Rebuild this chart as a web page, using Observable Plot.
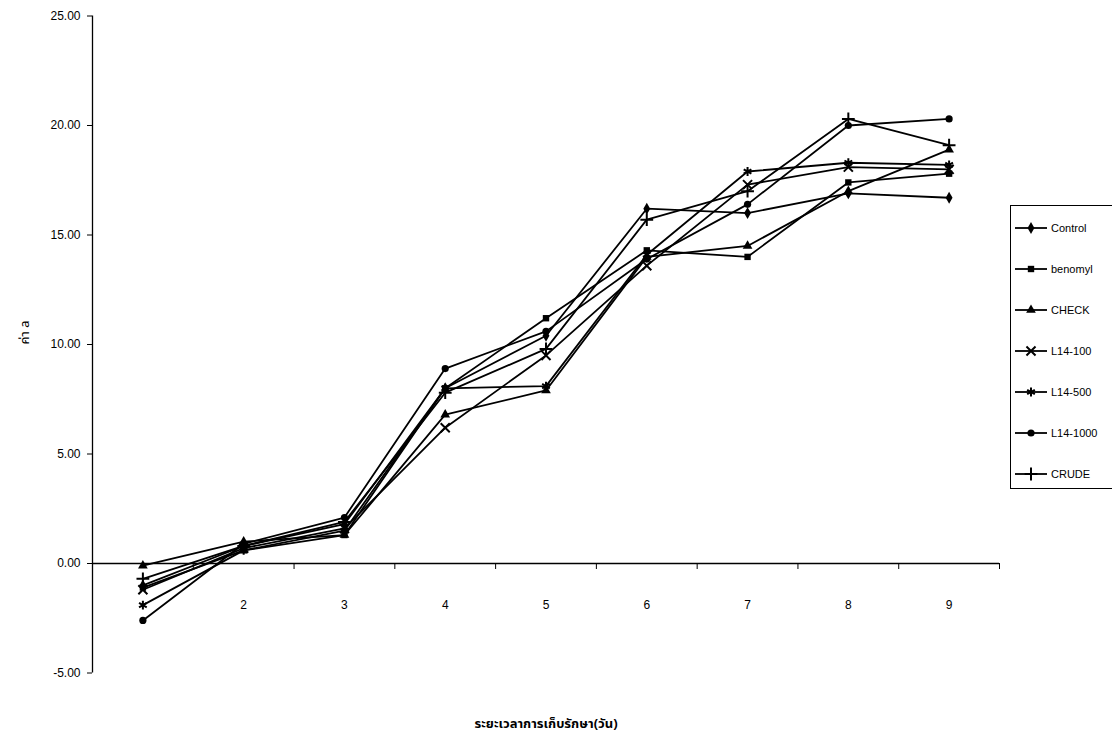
<!DOCTYPE html>
<html><head><meta charset="utf-8">
<script src="https://cdn.jsdelivr.net/npm/d3@7"></script>
<script src="https://cdn.jsdelivr.net/npm/@observablehq/plot@0.6"></script>
<style>
body{margin:0;overflow:hidden;background:#fff}
#wrap{position:relative;width:1112px;height:742px;overflow:hidden}
#legend{position:absolute;left:1010px;top:205px;width:140px;height:284px;border:1.5px solid #000;box-sizing:border-box;background:#fff;font:11px "Liberation Sans",Arial,sans-serif;color:#000}
.item{position:absolute;left:4px;height:14px;display:flex;align-items:center;white-space:nowrap}
.item svg{margin-right:4px}
</style></head>
<body><div id="wrap"></div>
<script>
const days = [1, 2, 3, 4, 5, 6, 7, 8, 9];
const dayLabels = ["", "2", "3", "4", "5", "6", "7", "8", "9"];
const seriesNames = ["Control", "benomyl", "CHECK", "L14-100", "L14-500", "L14-1000", "CRUDE"];
const control  = [-1.0, 0.8, 1.8, 8.0, 10.4, 16.2, 16.0, 16.9, 16.7];
const benomyl  = [-1.1, 0.6, 1.3, 8.0, 11.2, 14.3, 14.0, 17.4, 17.8];
const check    = [-0.1, 1.0, 1.3, 6.8, 7.9, 14.0, 14.5, 17.0, 18.9];
const l14_100  = [-1.2, 0.7, 1.6, 6.2, 9.5, 13.6, 17.3, 18.1, 18.0];
const l14_500  = [-1.9, 0.6, 1.5, 8.0, 8.1, 14.1, 17.9, 18.3, 18.2];
const l14_1000 = [-2.6, 0.9, 2.1, 8.9, 10.6, 13.9, 16.4, 20.0, 20.3];
const crude    = [-0.7, 0.8, 1.9, 7.8, 9.8, 15.7, 17.0, 20.3, 19.1];
const yTicks = [-5, 0, 5, 10, 15, 20, 25];
const xBounds = [0.5, 1.5, 2.5, 3.5, 4.5, 5.5, 6.5, 7.5, 8.5, 9.5];
const xTitle = "ระยะเวลาการเก็บรักษา(วัน)";
const yTitle = "ค่า a";

const seriesValues = [control, benomyl, check, l14_100, l14_500, l14_1000, crude];
const symbolOf = {"Control":"diamond","benomyl":"square","CHECK":"triangle","L14-100":"times","L14-500":"asterisk","L14-1000":"circle","CRUDE":"plus"};
const filledSet = new Set(["diamond","square","triangle","circle"]);
const rows = [];
seriesNames.forEach((s, i) => days.forEach((d, j) => rows.push({series: s, day: d, value: seriesValues[i][j], sym: symbolOf[s]})));

const W = 1112, H = 742, mTop = 15.5, mBottom = 69.5, mLeft = 92, mRight = 113;
const yDomain = [-5, 25];
const pxPerUnit = (H - mTop - mBottom) / (yDomain[1] - yDomain[0]);
const zeroOffset = -(0 - yDomain[0]) * pxPerUnit; // from frame bottom to y=0
const font = '"Liberation Sans", Arial, sans-serif';

const chart = Plot.plot({
  width: W, height: H,
  marginTop: mTop, marginBottom: mBottom, marginLeft: mLeft, marginRight: mRight,
  style: {fontFamily: font, fontSize: "12px", color: "#000", background: "#fff"},
  x: {domain: [xBounds[0], xBounds[xBounds.length - 1]]},
  y: {domain: yDomain},
  symbol: {domain: seriesNames, range: seriesNames.map(s => symbolOf[s])},
  marks: [
    Plot.ruleX([xBounds[0]], {stroke: "#000", strokeWidth: 1.3}),
    Plot.ruleY([0], {stroke: "#000", strokeWidth: 1.3}),
    Plot.axisY({ticks: yTicks, tickFormat: d => d.toFixed(2), tickSize: 5, tickPadding: 7, label: null, fontSize: 12}),
    Plot.axisX({ticks: xBounds, tickFormat: () => "", tickSize: 6, label: null, dy: zeroOffset}),
    Plot.axisX({ticks: days, tickFormat: (d, i) => dayLabels[i], tickSize: 0, tickPadding: 0, label: null, dy: zeroOffset + 2 * pxPerUnit - 7, fontSize: 12}),
    Plot.line(rows, {x: "day", y: "value", z: "series", stroke: "#000", strokeWidth: 1.8}),
    Plot.dot(rows.filter(r => filledSet.has(r.sym)), {x: "day", y: "value", symbol: "series", fill: "#000", r: 3.6}),
    Plot.dot(rows.filter(r => !filledSet.has(r.sym)), {x: "day", y: "value", symbol: "series", stroke: "#000", strokeWidth: 2, r: 4.2}),
    Plot.text([xTitle], {frameAnchor: "bottom", dy: 55, fontSize: 13, fontWeight: "bold", fontFamily: '"Noto Sans Thai", Tahoma, "DejaVu Sans", sans-serif'}),
    Plot.text([yTitle], {frameAnchor: "left", dx: -68, rotate: -90, fontSize: 13, fontFamily: '"Noto Sans Thai", Tahoma, "DejaVu Sans", sans-serif'})
  ]
});
const wrap = document.getElementById("wrap");
wrap.appendChild(chart);

// legend
const legend = document.createElement("div");
legend.id = "legend";
const d3sym = {diamond: d3.symbolDiamond, square: d3.symbolSquare, triangle: d3.symbolTriangle, times: d3.symbolTimes, asterisk: d3.symbolAsterisk, circle: d3.symbolCircle, plus: d3.symbolPlus};
seriesNames.forEach((s, i) => {
  const item = document.createElement("div");
  item.className = "item";
  item.style.top = (15 + i * 41) + "px";
  const sym = symbolOf[s];
  const filled = filledSet.has(sym);
  const p = d3.symbol(d3sym[sym], (filled ? 3.6 : 4.2) ** 2 * Math.PI)();
  item.innerHTML = `<svg width="32" height="14"><line x1="0" x2="32" y1="7" y2="7" stroke="#000" stroke-width="1.8"/>` +
    `<path transform="translate(16,7)" d="${p}" fill="${filled ? "#000" : "none"}" stroke="${filled ? "none" : "#000"}" stroke-width="2"/></svg><span>${s}</span>`;
  legend.appendChild(item);
});
wrap.appendChild(legend);
</script>
</body></html>
